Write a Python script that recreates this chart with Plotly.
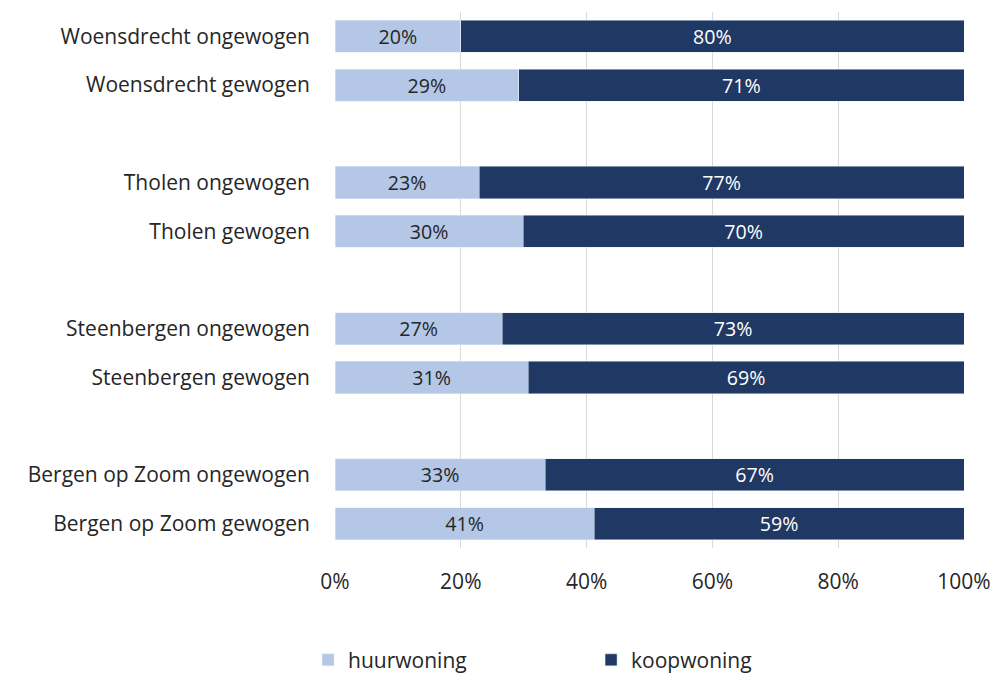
import plotly.graph_objects as go

categories = ["Woensdrecht ongewogen", "Woensdrecht gewogen", " ",
              "Tholen ongewogen", "Tholen gewogen", "  ",
              "Steenbergen ongewogen", "Steenbergen gewogen", "   ",
              "Bergen op Zoom ongewogen", "Bergen op Zoom gewogen"]
huur = [20.0, 29.2, None, 22.9, 29.9, None, 26.6, 30.7, None, 33.4, 41.2]
koop = [80.0, 70.8, None, 77.1, 70.1, None, 73.4, 69.3, None, 66.6, 58.8]
tickvals_x = [0, 20, 40, 60, 80, 100]
ticktext_x = ["0%", "20%", "40%", "60%", "80%", "100%"]

FONT = "Open Sans"
FS = 21

def lbl(v):
    return [None if x is None else f"{round(x):.0f}%" for x in v]

fig = go.Figure()
fig.add_trace(go.Bar(y=categories, x=huur, orientation="h", name="huurwoning",
                     marker=dict(color="#B4C7E7"), text=lbl(huur),
                     textposition="inside", insidetextanchor="middle",
                     textfont=dict(color="#262626", size=FS, family=FONT),
                     hoverinfo="skip"))
fig.add_trace(go.Bar(y=categories, x=koop, orientation="h", name="koopwoning",
                     marker=dict(color="#203864"), text=lbl(koop),
                     textposition="inside", insidetextanchor="middle",
                     textfont=dict(color="#FFFFFF", size=FS, family=FONT),
                     hoverinfo="skip"))

fig.update_layout(
    barmode="stack", bargap=0.34,
    width=997, height=673,
    margin=dict(l=335, r=33, t=12, b=125, autoexpand=False),
    plot_bgcolor="white", paper_bgcolor="white",
    font=dict(family=FONT, size=FS, color="#262626"),
    showlegend=True,
    legend=dict(orientation="h", xref="container", x=0.309, xanchor="left",
                yref="container", y=0.019, yanchor="middle",
                entrywidth=238, entrywidthmode="pixels",
                font=dict(size=FS, family=FONT, color="#262626"),
                traceorder="normal"),
)
fig.update_xaxes(range=[0, 100], tickvals=tickvals_x, ticktext=ticktext_x,
                 showgrid=True, gridcolor="#D9D9D9", gridwidth=1,
                 zeroline=False, showline=False, ticks="outside", ticklen=0,
                 ticklabelstandoff=15, tickfont=dict(size=FS))
fig.update_yaxes(categoryorder="array", categoryarray=categories,
                 autorange="reversed", showgrid=False, zeroline=False,
                 showline=False, ticks="", ticklabelstandoff=24,
                 tickfont=dict(size=FS))

fig.write_html("out.html", config={"displayModeBar": False},
               post_script="document.body.style.margin='0';")
